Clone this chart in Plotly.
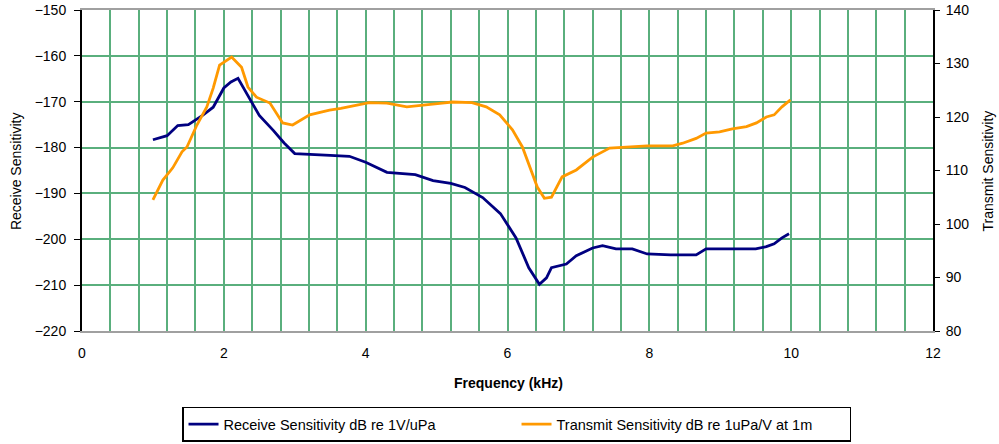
import plotly.graph_objects as go

# Receive sensitivity (left axis, dB re 1V/uPa)
rx_freq = [1.0, 1.2, 1.35, 1.5, 1.7, 1.85, 2.0, 2.1, 2.2, 2.35, 2.5, 2.7, 2.85, 3.0, 3.2,
           3.5, 3.77, 4.0, 4.3, 4.7, 4.95, 5.2, 5.4, 5.65, 5.9, 6.12, 6.3, 6.45, 6.55,
           6.62, 6.83, 6.97, 7.2, 7.34, 7.53, 7.76, 7.97, 8.3, 8.66, 8.8, 9.2, 9.5,
           9.65, 9.76, 9.87, 9.97]
rx_val = [-178.3, -177.4, -175.2, -175.0, -173.0, -171.2, -167.0, -165.7, -164.9, -169.0,
          -173.0, -176.3, -179.0, -181.3, -181.5, -181.7, -181.9, -183.2, -185.4, -185.9,
          -187.2, -187.8, -188.7, -190.9, -194.4, -199.7, -206.2, -209.8, -208.4, -206.2,
          -205.4, -203.6, -201.9, -201.4, -202.1, -202.1, -203.2, -203.4, -203.4, -202.1,
          -202.1, -202.1, -201.6, -201.0, -199.7, -198.8]

# Transmit sensitivity (right axis, dB re 1uPa/V at 1m)
tx_freq = [1.0, 1.14, 1.28, 1.41, 1.48, 1.62, 1.76, 1.85, 1.94, 2.11, 2.25, 2.34, 2.46,
           2.65, 2.83, 2.97, 3.21, 3.49, 3.65, 3.85, 4.05, 4.3, 4.58, 5.08, 5.22, 5.5,
           5.7, 5.89, 6.07, 6.21, 6.31, 6.42, 6.52, 6.62, 6.77, 6.97, 7.2, 7.44, 7.97,
           8.33, 8.47, 8.66, 8.8, 8.99, 9.17, 9.37, 9.51, 9.65, 9.76, 9.87, 9.99]
tx_val = [104.5, 108.2, 110.5, 113.5, 114.4, 118.5, 121.9, 125.4, 129.7, 131.2, 129.3,
          125.6, 123.7, 122.6, 118.9, 118.5, 120.4, 121.3, 121.6, 122.2, 122.7, 122.6,
          121.9, 122.6, 122.8, 122.7, 121.9, 120.4, 117.6, 114.4, 110.7, 106.9, 104.8,
          105.0, 108.8, 110.1, 112.5, 114.2, 114.6, 114.6, 115.1, 116.0, 117.0, 117.2,
          117.8, 118.2, 118.9, 120.0, 120.4, 121.9, 123.2]

x_ticks = [0, 2, 4, 6, 8, 10, 12]
left_ticks = [-220, -210, -200, -190, -180, -170, -160, -150]
right_ticks = [80, 90, 100, 110, 120, 130, 140]

GRID = "#5aaf7d"
FONT = "Liberation Sans, Arial, sans-serif"

fig = go.Figure()
fig.add_trace(go.Scatter(x=rx_freq, y=rx_val, mode="lines",
                         name="Receive Sensitivity dB re 1V/uPa",
                         line=dict(color="#000080", width=2.8)))
fig.add_trace(go.Scatter(x=tx_freq, y=tx_val, mode="lines", yaxis="y2",
                         name="Transmit Sensitivity dB re 1uPa/V at 1m",
                         line=dict(color="#ff9900", width=2.8)))

fig.update_layout(
    width=999, height=444,
    margin=dict(l=82, r=66, t=10, b=113, autoexpand=False),
    paper_bgcolor="white", plot_bgcolor="white",
    font=dict(family=FONT, size=14, color="black"),
    showlegend=True,
    legend=dict(orientation="h", x=0.5106, xanchor="center", y=-0.236, yanchor="top",
                bordercolor="black", borderwidth=1.5, font=dict(size=14.5),
                itemwidth=30, entrywidth=288, tracegroupgap=0),
    xaxis=dict(range=[0, 12], tickvals=x_ticks, ticks="", showgrid=True,
               gridcolor=GRID, gridwidth=1.5,
               minor=dict(dtick=0.4, tick0=0, showgrid=True, gridcolor=GRID, gridwidth=1.5),
               showline=True, linecolor="#a0a0a0", linewidth=2, mirror=True,
               zeroline=False, tickfont=dict(size=14), automargin=False,
               ticklabelstandoff=8),
    yaxis=dict(range=[-220, -150], tickvals=left_ticks, ticks="outside", ticklen=6,
               tickcolor="black", showgrid=True, gridcolor=GRID, gridwidth=1.5,
               showline=True, linecolor="black", linewidth=2, zeroline=False,
               tickfont=dict(size=14), automargin=False, ticklabelstandoff=5),
    yaxis2=dict(range=[80, 140], tickvals=right_ticks, overlaying="y", side="right",
                ticks="outside", ticklen=5, tickcolor="black", showgrid=False,
                showline=True, linecolor="black", linewidth=2, zeroline=False,
                tickfont=dict(size=14), automargin=False, ticklabelstandoff=3),
    annotations=[
        dict(text="Receive Sensitivity", textangle=-90, xref="paper", yref="paper",
             x=-0.0776, y=0.498, xanchor="center", yanchor="middle", showarrow=False,
             font=dict(size=14)),
        dict(text="Transmit Sensitivity", textangle=-90, xref="paper", yref="paper",
             x=1.0646, y=0.5, xanchor="center", yanchor="middle", showarrow=False,
             font=dict(size=14)),
        dict(text="<b>Frequency (kHz)</b>", xref="paper", yref="paper",
             x=0.5006, y=-0.162, xanchor="center", yanchor="middle", showarrow=False,
             font=dict(size=14)),
    ],
)

# remove the default page margin so the 999x444 figure fills the window exactly
fig.write_html("out.html", config={"displayModeBar": False},
               post_script="document.body.style.margin='0px';")
